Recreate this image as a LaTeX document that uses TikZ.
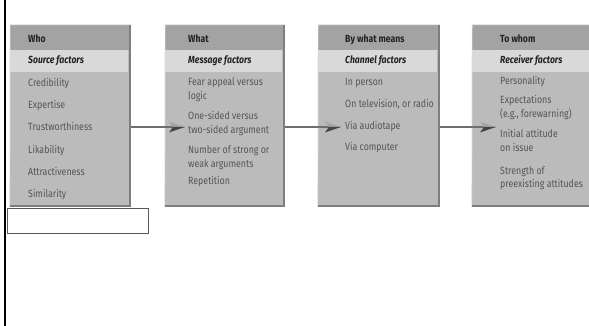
\documentclass[tikz,border=0pt]{standalone}
\usepackage{fontspec}
\setmainfont{Fira Sans}[FakeStretch=0.84]
\usetikzlibrary{calc}
\definecolor{bodyg}{HTML}{BBBBBB}
\definecolor{headg}{HTML}{A3A3A3}
\definecolor{subg}{HTML}{D9D9D9}
\definecolor{bevel}{HTML}{7E7E7E}
\definecolor{hilite}{HTML}{DCDCDC}
\definecolor{txtg}{HTML}{555555}
\definecolor{darkt}{HTML}{222222}
\definecolor{arrg}{HTML}{6E6E6E}
\definecolor{headlight}{HTML}{A6A6A6}
\definecolor{headdark}{HTML}{454545}
\begin{document}
\begin{tikzpicture}[x=1pt,y=-1pt,
  panel/.style={rectangle, fill=bodyg, inner sep=0pt, minimum height=182pt},
  item/.style={anchor=west, inner sep=0pt, text height=7.5pt, text depth=2pt, text=txtg, font=\fontsize{10.5}{12}\selectfont},
  head/.style={item, text=darkt, font=\fontsize{10.3}{12}\selectfont\bfseries},
  sub/.style={item, text=darkt, font=\fontsize{10.3}{12}\selectfont\bfseries\itshape},
  conn/.style={draw=arrg, line width=2pt},
  arrhead/.pic={
    \fill[headlight] (0,0) -- (-16,-5.5) -- (-12,0) -- cycle;
    \fill[headdark] (0,0) -- (-12,0) -- (-16,5.5) -- cycle;}
]
\useasboundingbox (0,0) rectangle (589,326);
\fill[white] (0,0) rectangle (589,326);
\draw[line width=2.2pt] (5,0) -- (5,326);

% panels
\node[panel, minimum width=121pt] (b1) at (70.5,116) {};
\node[panel, minimum width=120pt] (b2) at (225,116) {};
\node[panel, minimum width=122pt] (b3) at (379,116) {};
\node[panel, minimum width=122pt] (b4) at (533,116) {};
\foreach \b in {b1,b2,b3,b4}{
  \fill[headg] (\b.north west) rectangle ([yshift=-25pt]\b.north east);
  \fill[subg] ([yshift=-25pt]\b.north west) rectangle ([yshift=-47pt,xshift=-3pt]\b.north east);
  \draw[hilite, line width=0.7pt] ([yshift=0.35pt]\b.south west) -- ([xshift=0.35pt]\b.north west) -- (\b.north east);
  \fill[bevel] ([xshift=-2.5pt]\b.north east) rectangle (\b.south east);
  \fill[bevel] (\b.south west) rectangle ([yshift=2.5pt]\b.south east);
}

% white box below first panel
\node[draw=black!65, line width=0.8pt, fill=white, minimum width=141pt, minimum height=25pt, inner sep=0pt] (wb) at (77.5,220.5) {};

% panel 1 text
\node[head] (h1) at (28,40) {Who};
\node[sub] (s1) at (28,61) {Source factors};
\foreach \y/\t [count=\i] in {84/Credibility,106/Expertise,128/Trustworthiness,151/Likability,173/Attractiveness,195/Similarity}
  \node[item] (p1i\i) at (28,\y) {\t};

% panel 2 text
\node[head] (h2) at (188,40) {What};
\node[sub] (s2) at (188,61) {Message factors};
\foreach \y/\t [count=\i] in {83/Fear appeal versus,97/logic,117/One-sided versus,131/two-sided argument,151/Number of strong or,165/weak arguments,182/Repetition}
  \node[item] (p2i\i) at (188,\y) {\t};

% panel 3 text
\node[head] (h3) at (345,40) {By what means};
\node[sub] (s3) at (345,61) {Channel factors};
\foreach \y/\t [count=\i] in {83/In person,105/{On television, or radio},127/Via audiotape,148/Via computer}
  \node[item] (p3i\i) at (345,\y) {\t};

% panel 4 text
\node[head] (h4) at (500,40) {To whom};
\node[sub] (s4) at (500,61) {Receiver factors};
\foreach \y/\t [count=\i] in {82/Personality,101/Expectations,115/{(e.g., forewarning)},135/Initial attitude,149/on issue,172/Strength of,185/preexisting attitudes}
  \node[item] (p4i\i) at (500,\y) {\t};

% connectors
\coordinate (t1) at (185,127);
\coordinate (t2) at (341,127);
\coordinate (t3) at (496,127);
\draw[conn] (b1.east |- t1) -- ([xshift=-12pt]t1);
\draw[conn] (b2.east |- t2) -- ([xshift=-12pt]t2);
\draw[conn] (b3.east |- t3) -- ([xshift=-12pt]t3);
\pic at (t1) {arrhead};
\pic at (t2) {arrhead};
\pic at (t3) {arrhead};
\end{tikzpicture}
\end{document}
